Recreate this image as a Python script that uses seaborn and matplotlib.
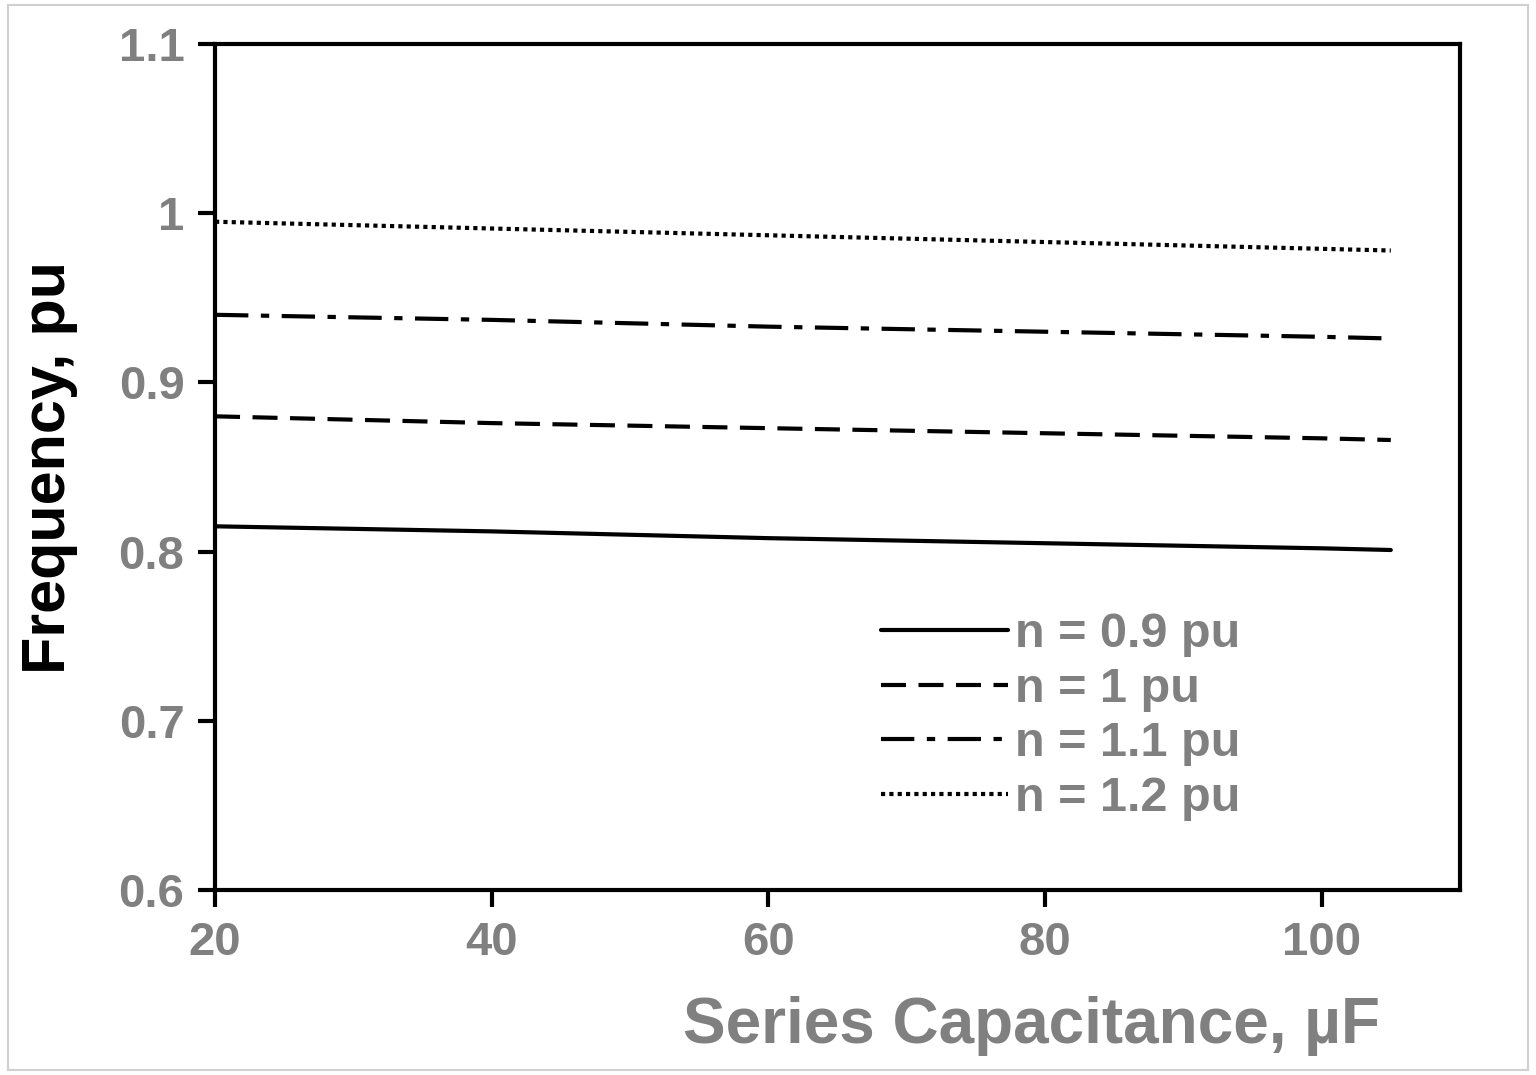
import numpy as np
import pandas as pd
import seaborn as sns
import matplotlib.pyplot as plt
from matplotlib.patches import Rectangle

capacitance = [20, 40, 60, 80, 100, 105]
n_09 = [0.815, 0.812, 0.808, 0.805, 0.802, 0.801]
n_10 = [0.880, 0.876, 0.873, 0.870, 0.867, 0.866]
n_11 = [0.940, 0.937, 0.933, 0.930, 0.927, 0.926]
n_12 = [0.995, 0.991, 0.987, 0.983, 0.979, 0.978]
labels = ["n = 0.9 pu", "n = 1 pu", "n = 1.1 pu", "n = 1.2 pu"]
styles = ["-", (0, (6, 3)), (0, (8, 3, 2, 3)), (0, (1, 1))]

sns.set_style("ticks")
plt.rcParams['font.family'] = ['Liberation Sans', 'DejaVu Sans']
plt.rcParams['font.weight'] = 'bold'

fig = plt.figure(figsize=(15.36, 10.75), dpi=100)
ax = fig.add_axes([0.14, 0.172, 0.8105, 0.787])
for vals, lab, ls in zip([n_09, n_10, n_11, n_12], labels, styles):
    df = pd.DataFrame({"x": capacitance, "y": vals})
    sns.lineplot(data=df, x="x", y="y", ax=ax, color="black", lw=3,
                 linestyle=ls, label=lab)

ax.set_xlim(20, 110)
ax.set_ylim(0.6, 1.1)
ax.set_xticks([20, 40, 60, 80, 100])
ax.set_yticks([0.6, 0.7, 0.8, 0.9, 1.0, 1.1])
ax.set_yticklabels(["0.6", "0.7", "0.8", "0.9", "1", "1.1"])
ax.tick_params(axis="both", direction="out", length=12, width=3, colors="black",
               labelcolor="#808080", pad=10)
for lab in ax.get_xticklabels() + ax.get_yticklabels():
    lab.set_fontweight("bold")
    lab.set_fontsize(34)
for s in ax.spines.values():
    s.set_linewidth(3)
    s.set_color("black")
ax.set_xlabel("Series Capacitance, µF", fontsize=46, fontweight="bold",
              color="#808080", ha="right")
ax.xaxis.set_label_coords(0.936, -0.125)
ax.set_ylabel("Frequency, pu", fontsize=44, fontweight="bold", color="black")
ax.yaxis.set_label_coords(-0.11, 0.5)

leg = ax.legend(loc="lower left", bbox_to_anchor=(0.5, 0.03), frameon=False,
                fontsize=35, handlelength=2.6, handletextpad=0.15, labelspacing=0.2)
for t in leg.get_texts():
    t.set_color("#808080")
    t.set_fontweight("bold")

fig.patches.append(Rectangle((0.005, 0.005), 0.99, 0.99, transform=fig.transFigure,
                             fill=False, edgecolor="#d0d0d0", lw=1.5))
fig.savefig("out.png", dpi=100)
